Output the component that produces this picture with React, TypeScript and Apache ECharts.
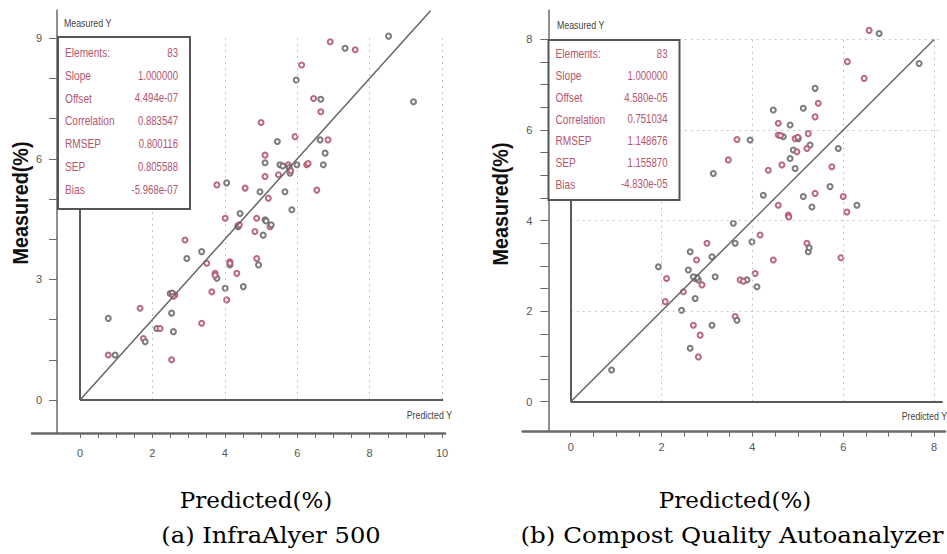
import React, { useEffect, useRef } from "react";
import * as echarts from "echarts";

// ---------- data ----------
const leftPoints: [number, number][] = [
  [6.91, 8.91], [7.32, 8.75], [7.6, 8.71], [8.52, 9.05], [6.12, 8.33], [5.97, 7.96], [6.45, 7.5], [6.65, 7.48], [6.65, 7.17], [9.21, 7.42],
  [5.0, 6.9], [5.45, 6.43], [5.94, 6.55], [6.63, 6.47], [6.85, 6.47], [6.77, 6.14], [5.11, 6.09], [5.11, 5.9], [5.11, 5.56], [5.52, 5.85],
  [5.75, 5.85], [5.99, 5.85], [6.26, 5.85], [6.72, 5.85], [5.48, 5.6], [5.8, 5.64], [3.78, 5.35], [4.05, 5.4], [4.56, 5.27], [4.97, 5.18],
  [5.2, 5.02], [5.66, 5.18], [6.54, 5.22], [5.85, 4.73], [4.01, 4.52], [4.42, 4.64], [4.88, 4.52], [5.11, 4.48], [5.25, 4.31], [4.37, 4.31],
  [4.83, 4.19], [5.06, 4.1], [2.9, 3.98], [3.36, 3.69], [3.5, 3.4], [2.95, 3.52], [4.14, 3.44], [4.14, 3.36], [4.88, 3.52], [4.93, 3.36],
  [3.73, 3.15], [3.78, 3.03], [4.33, 3.15], [4.51, 2.82], [3.64, 2.69], [4.01, 2.78], [4.05, 2.49], [2.49, 2.65], [2.62, 2.61], [2.53, 2.16],
  [1.66, 2.28], [0.78, 2.03], [3.36, 1.91], [2.12, 1.78], [2.21, 1.78], [2.58, 1.7], [1.75, 1.53], [1.8, 1.45], [0.78, 1.12], [0.97, 1.12],
  [2.53, 1.0], [2.55, 2.66], [2.58, 2.58], [4.36, 4.33], [4.4, 4.36], [5.78, 5.78], [5.82, 5.7], [5.6, 5.82], [4.14, 3.4], [5.14, 4.45],
  [3.73, 3.1], [5.28, 4.36], [6.3, 5.88],
];

const rightPoints: [number, number][] = [
  [6.57, 8.2], [6.79, 8.13], [6.09, 7.51], [7.67, 7.47], [6.46, 7.14], [5.38, 6.92], [5.45, 6.59], [5.12, 6.48], [5.38, 6.29], [4.46, 6.44],
  [4.57, 6.15], [4.83, 6.11], [4.57, 5.89], [4.68, 5.85], [4.94, 5.81], [5.01, 5.81], [5.23, 5.92], [5.27, 5.67], [5.2, 5.59], [4.9, 5.56],
  [4.98, 5.52], [4.83, 5.37], [4.65, 5.23], [4.94, 5.15], [3.66, 5.79], [3.95, 5.78], [3.47, 5.34], [3.14, 5.04], [4.35, 5.11], [5.89, 5.59],
  [5.75, 5.19], [5.71, 4.75], [6.0, 4.53], [6.3, 4.34], [6.08, 4.19], [4.24, 4.56], [4.57, 4.34], [5.12, 4.53], [5.38, 4.6], [5.31, 4.3],
  [4.79, 4.12], [3.58, 3.94], [4.17, 3.68], [3.99, 3.53], [3.0, 3.5], [3.62, 3.5], [5.2, 3.5], [5.23, 3.31], [5.95, 3.18], [2.63, 3.31],
  [2.77, 3.13], [3.11, 3.2], [4.46, 3.13], [1.93, 2.98], [2.11, 2.72], [2.59, 2.91], [2.74, 2.72], [2.81, 2.69], [2.89, 2.58], [3.18, 2.76],
  [3.73, 2.69], [3.88, 2.69], [4.06, 2.83], [4.1, 2.54], [2.48, 2.43], [2.74, 2.28], [2.08, 2.21], [2.44, 2.02], [3.62, 1.88], [3.66, 1.8],
  [2.7, 1.69], [3.11, 1.69], [2.85, 1.47], [2.63, 1.18], [2.81, 0.99], [0.9, 0.7], [4.62, 5.88], [2.78, 2.74], [3.8, 2.66], [5.25, 3.4],
  [4.8, 4.08], [2.7, 2.76], [5.0, 5.84],
];

const leftXTicks = [0, 2, 4, 6, 8, 10];
const leftYTicks = [0, 3, 6, 9];
const rightXTicks = [0, 2, 4, 6, 8];
const rightYTicks = [0, 2, 4, 6, 8];

const statNames = ["Elements:", "Slope", "Offset", "Correlation", "RMSEP", "SEP", "Bias"];
const leftStats = ["83", "1.000000", "4.494e-07", "0.883547", "0.800116", "0.805588", "-5.968e-07"];
const rightStats = ["83", "1.000000", "4.580e-05", "0.751034", "1.148676", "1.155870", "-4.830e-05"];

const yTitle = "Measured(%)";
const xTitle = "Predicted(%)";
const captionA = "(a) InfraAlyer 500";
const captionB = "(b) Compost Quality Autoanalyzer";

// ---------- helpers ----------
function steps(a: number, b: number, s: number) {
  const out: number[] = [];
  for (let v = a; v <= b + 1e-9; v += s) out.push(Math.round(v * 1000) / 1000);
  return out;
}

const RED = "#b4566e";
const GREY = "#6e6a70";
const AXIS = "#6a6a6a";
const FRAME = "#5a5a5a";
const GRIDC = "#c4c4c4";

type Panel = {
  points: [number, number][];
  xTicks: number[];
  yTicks: number[];
  xMinor: number[];
  yMinor: number[];
  grid: { left: number; top: number; width: number; height: number };
  xMin: number; xMax: number; yMin: number; yMax: number;
  yOffset: number;
  lineEnd: number;
  xLabelMargin: number;
  yLabelMargin: number;
};

const panels: Panel[] = [
  {
    points: leftPoints,
    xTicks: leftXTicks,
    yTicks: leftYTicks,
    xMinor: steps(0, 10, 0.5),
    yMinor: steps(0, 9, 1),
    grid: { left: 32, top: 10, width: 413, height: 423 },
    xMin: -1.326, xMax: 10.08, yMin: -0.821, yMax: 9.7,
    yOffset: -25,
    lineEnd: 9.68,
    xLabelMargin: 14,
    yLabelMargin: 15,
  },
  {
    points: rightPoints,
    xTicks: rightXTicks,
    yTicks: rightYTicks,
    xMinor: steps(0, 8, 0.5),
    yMinor: steps(0, 8, 0.5),
    grid: { left: 522.7, top: 10, width: 422.3, height: 421.7 },
    xMin: -1.057, xMax: 8.24, yMin: -0.662, yMax: 8.65,
    yOffset: -25.6,
    lineEnd: 8.0,
    xLabelMargin: 10,
    yLabelMargin: 16,
  },
];

function buildMarkLines(p: Panel) {
  const data: any[] = [];
  const xTop = p.xTicks[p.xTicks.length - 1];
  const yTop = p.yTicks[p.yTicks.length - 1];
  const dotted = { color: GRIDC, type: [2, 4] as any, width: 1 };
  p.xTicks.filter((v) => v > 0).forEach((v) => {
    data.push([{ coord: [v, 0], lineStyle: dotted }, { coord: [v, yTop] }]);
  });
  p.yTicks.filter((v) => v > 0).forEach((v) => {
    data.push([{ coord: [0, v], lineStyle: dotted }, { coord: [xTop + 0.15, v] }]);
  });
  const solid = { color: FRAME, type: "solid", width: 2 };
  data.push([{ coord: [0, 0], lineStyle: solid }, { coord: [p.xMax - 0.05, 0] }]);
  data.push([{ coord: [0, 0], lineStyle: solid }, { coord: [0, p.yMax * 0.8] }]);
  data.push([
    { coord: [0, 0], lineStyle: { color: "#666", type: "solid", width: 1.5 } },
    { coord: [p.lineEnd, p.lineEnd] },
  ]);
  return data;
}

function statBox(x: number, y: number, w: number, h: number, values: string[], rowY: number[]) {
  const els: any[] = [
    {
      type: "rect",
      z: 100,
      shape: { x, y, width: w, height: h },
      style: { fill: "#ffffff", stroke: "#555", lineWidth: 2 },
    },
  ];
  statNames.forEach((n, i) => {
    els.push({
      type: "text",
      z: 101,
      x: x + 7,
      y: rowY[i],
      scaleX: 0.78,
      style: { text: n, fill: RED, fontSize: 13, fontFamily: "Liberation Sans", verticalAlign: "middle", textAlign: "left" },
    });
    els.push({
      type: "text",
      z: 101,
      x: x + w - 12,
      y: rowY[i],
      scaleX: 0.74,
      style: { text: values[i], fill: RED, fontSize: 13, fontFamily: "Liberation Sans", verticalAlign: "middle", textAlign: "right" },
    });
  });
  return els;
}

const captionFont = { fill: "#000", fontSize: 23, fontFamily: "DejaVu Serif", textAlign: "center", verticalAlign: "middle" };

export default function App() {
  const ref = useRef<HTMLDivElement>(null);

  useEffect(() => {
    if (!ref.current) return;
    const chart = echarts.init(ref.current, null, { renderer: "svg" });

    const grids = panels.map((p) => ({ ...p.grid, containLabel: false }));
    const xAxes = panels.map((p, i) => ({
      type: "value",
      gridIndex: i,
      min: p.xMin,
      max: p.xMax,
      axisLine: { show: true, onZero: false, lineStyle: { color: AXIS, width: 2.5 } },
      axisTick: { show: true, customValues: p.xMinor, length: 5, lineStyle: { color: AXIS, width: 1 } },
      axisLabel: { show: true, customValues: p.xTicks, margin: p.xLabelMargin, color: "#555", fontSize: 11, fontFamily: "Liberation Sans" },
      splitLine: { show: false },
    }));
    const yAxes = panels.map((p, i) => ({
      type: "value",
      gridIndex: i,
      min: p.yMin,
      max: p.yMax,
      offset: p.yOffset,
      axisLine: { show: true, onZero: false, lineStyle: { color: AXIS, width: 1.5 } },
      axisTick: { show: true, customValues: p.yMinor, length: 8, lineStyle: { color: AXIS, width: 1 } },
      axisLabel: { show: true, customValues: p.yTicks, margin: p.yLabelMargin, color: "#555", fontSize: 11, fontFamily: "Liberation Sans" },
      splitLine: { show: false },
    }));

    const series = panels.map((p, i) => ({
      type: "scatter",
      xAxisIndex: i,
      yAxisIndex: i,
      data: p.points,
      symbol: "emptyCircle",
      symbolSize: 5,
      silent: true,
      itemStyle: {
        color: (params: any) => (params.dataIndex % 2 === 0 ? RED : GREY),
        borderWidth: 1.2,
        opacity: 0.9,
      },
      markLine: {
        silent: true,
        symbol: ["none", "none"],
        label: { show: false },
        animation: false,
        data: buildMarkLines(p),
      },
    }));

    const graphic: any[] = [
      ...statBox(58, 37, 132, 172, leftStats, [52, 75, 97.5, 120, 143, 166, 189]),
      ...statBox(548.5, 40, 131, 160, rightStats, [53, 75, 97, 118.5, 140, 162, 183.5]),
      { type: "text", x: 64, y: 23, scaleX: 0.8, style: { text: "Measured Y", fill: "#444", fontSize: 11, fontFamily: "Liberation Sans", verticalAlign: "middle" } },
      { type: "text", x: 557, y: 25, scaleX: 0.8, style: { text: "Measured Y", fill: "#444", fontSize: 11, fontFamily: "Liberation Sans", verticalAlign: "middle" } },
      { type: "text", x: 452, y: 415, scaleX: 0.8, style: { text: "Predicted Y", fill: "#444", fontSize: 11, fontFamily: "Liberation Sans", verticalAlign: "middle", textAlign: "right" } },
      { type: "text", x: 947, y: 416, scaleX: 0.8, style: { text: "Predicted Y", fill: "#444", fontSize: 11, fontFamily: "Liberation Sans", verticalAlign: "middle", textAlign: "right" } },
      { type: "text", x: 20, y: 203, rotation: Math.PI / 2, scaleX: 0.9, style: { text: yTitle, fill: "#111", fontSize: 22, fontWeight: "bold", fontFamily: "Liberation Sans", textAlign: "center", verticalAlign: "middle" } },
      { type: "text", x: 500, y: 204, rotation: Math.PI / 2, scaleX: 0.9, style: { text: yTitle, fill: "#111", fontSize: 22, fontWeight: "bold", fontFamily: "Liberation Sans", textAlign: "center", verticalAlign: "middle" } },
      { type: "text", x: 256, y: 500, style: { ...captionFont, text: xTitle } },
      { type: "text", x: 271, y: 535, scaleX: 1.05, style: { ...captionFont, text: captionA } },
      { type: "text", x: 735, y: 500, style: { ...captionFont, text: xTitle } },
      { type: "text", x: 732, y: 535, scaleX: 1.07, style: { ...captionFont, text: captionB } },
    ];

    chart.setOption({
      animation: false,
      backgroundColor: "#ffffff",
      grid: grids,
      xAxis: xAxes,
      yAxis: yAxes,
      series,
      graphic,
    });

    return () => chart.dispose();
  }, []);

  return (
    <div
      ref={ref}
      style={{ position: "absolute", left: 0, top: 0, width: 947, height: 554 }}
    />
  );
}
